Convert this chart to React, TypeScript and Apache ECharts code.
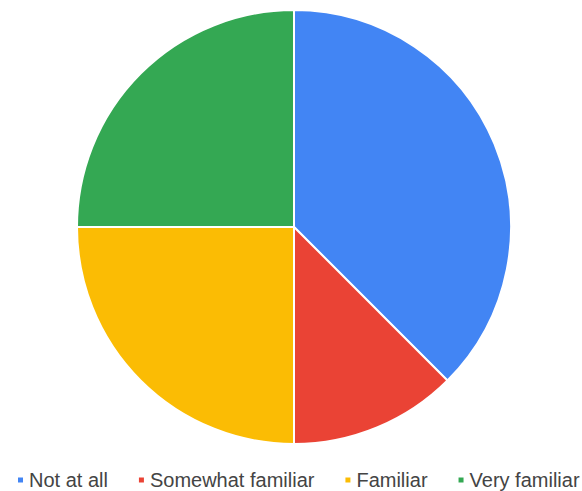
import React, { useEffect, useRef } from "react";
import * as echarts from "echarts";

const categories = ["Not at all", "Somewhat familiar", "Familiar", "Very familiar"];
const values = [3, 1, 2, 2];
const colors = ["#4285F4", "#EA4335", "#FBBC04", "#34A853"];

export default function App() {
  const ref = useRef<HTMLDivElement>(null);
  useEffect(() => {
    if (!ref.current) return;
    const chart = echarts.init(ref.current, null, { renderer: "svg" });
    chart.setOption({
      animation: false,
      color: colors,
      legend: {
        data: categories,
        left: 16,
        top: 469,
        width: 600,
        padding: 0,
        icon: "rect",
        itemWidth: 7,
        itemHeight: 7,
        itemGap: 29,
        textStyle: { fontFamily: "Liberation Sans, Arial, sans-serif", fontSize: 20, color: "#444", lineHeight: 22 },
      },
      series: [
        {
          type: "pie",
          center: [294, 227],
          radius: [0, 217],
          startAngle: 90,
          clockwise: true,
          label: { show: false },
          labelLine: { show: false },
          itemStyle: { borderColor: "#fff", borderWidth: 2 },
          emphasis: { disabled: true },
          data: categories.map((name, i) => ({ name, value: values[i] })),
        },
      ],
    });
    return () => chart.dispose();
  }, []);
  return <div ref={ref} style={{ position: "fixed", left: 0, top: 0, width: 582, height: 491, background: "#fff" }} />;
}
